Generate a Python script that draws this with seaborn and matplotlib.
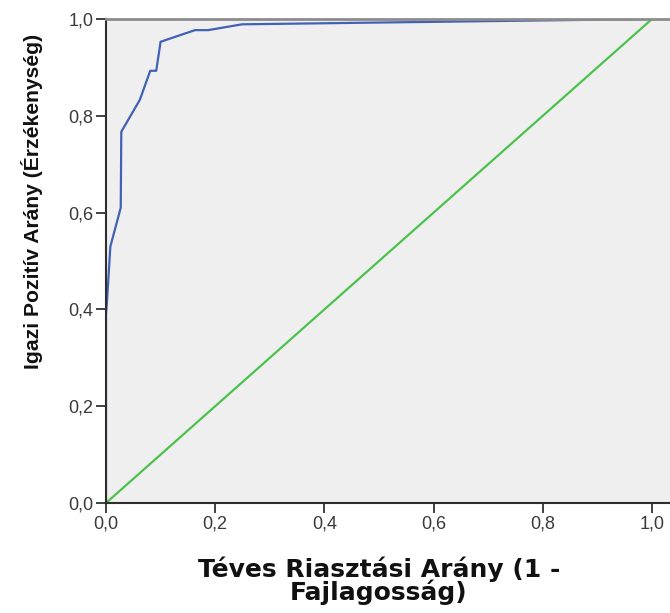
import matplotlib
matplotlib.use("Agg")
import matplotlib.pyplot as plt
import seaborn as sns
import pandas as pd

# ROC curve points
fpr = [0.0, 0.0, 0.002, 0.008, 0.027, 0.028, 0.062, 0.081, 0.092, 0.100, 0.163, 0.187, 0.249, 1.0]
tpr = [0.0, 0.39, 0.42, 0.53, 0.61, 0.767, 0.833, 0.893, 0.893, 0.953, 0.977, 0.977, 0.989, 1.0]

# reference (chance) line
ref_x = [0.0, 1.0]
ref_y = [0.0, 1.0]

ticks = [0.0, 0.2, 0.4, 0.6, 0.8, 1.0]
tick_labels = ["0,0", "0,2", "0,4", "0,6", "0,8", "1,0"]

sns.set_style("white")
plt.rcParams["font.family"] = ["Liberation Sans", "DejaVu Sans"]

fig = plt.figure(figsize=(6.70, 6.13), dpi=100)
ax = fig.add_axes([106 / 670, 110 / 613, 564 / 670, 484 / 613])
ax.set_facecolor("#EFEFEF")

roc = pd.DataFrame({"fpr": fpr, "tpr": tpr})
ref = pd.DataFrame({"x": ref_x, "y": ref_y})
sns.lineplot(data=ref, x="x", y="y", ax=ax, color="#4CC24C", linewidth=1.6,
             sort=False, estimator=None)
sns.lineplot(data=roc, x="fpr", y="tpr", ax=ax, color="#4361B4", linewidth=1.6,
             sort=False, estimator=None)

ax.set_xlim(0, 564 / 546)
ax.set_ylim(0, 1.0)
ax.set_xticks(ticks)
ax.set_xticklabels(tick_labels)
ax.set_yticks(ticks)
ax.set_yticklabels(tick_labels)
ax.tick_params(axis="both", direction="out", length=7, width=1.3, color="#333333",
               labelsize=13, labelcolor="#3A3A3A", pad=2, bottom=True, left=True)

for side in ["left", "bottom"]:
    ax.spines[side].set_color("#2E2E2E")
    ax.spines[side].set_linewidth(1.5)
ax.spines["top"].set_color("#8C8C8C")
ax.spines["top"].set_linewidth(2.0)
ax.spines["right"].set_visible(False)

ax.set_xlabel("Téves Riasztási Arány (1 -\nFajlagosság)", fontsize=18,
              fontweight="bold", color="#111111", linespacing=0.92,
              family="DejaVu Sans")
ax.xaxis.set_label_coords((379 - 106) / 564, -(556 - 503) / 484)
ax.set_ylabel("Igazi Pozitív Arány (Érzékenység)", fontsize=15.2,
              fontweight="bold", color="#111111")
ax.yaxis.set_label_coords(-(106 - 43) / 564, (503 - 201) / 484)

plt.savefig("out.png", dpi=100)
